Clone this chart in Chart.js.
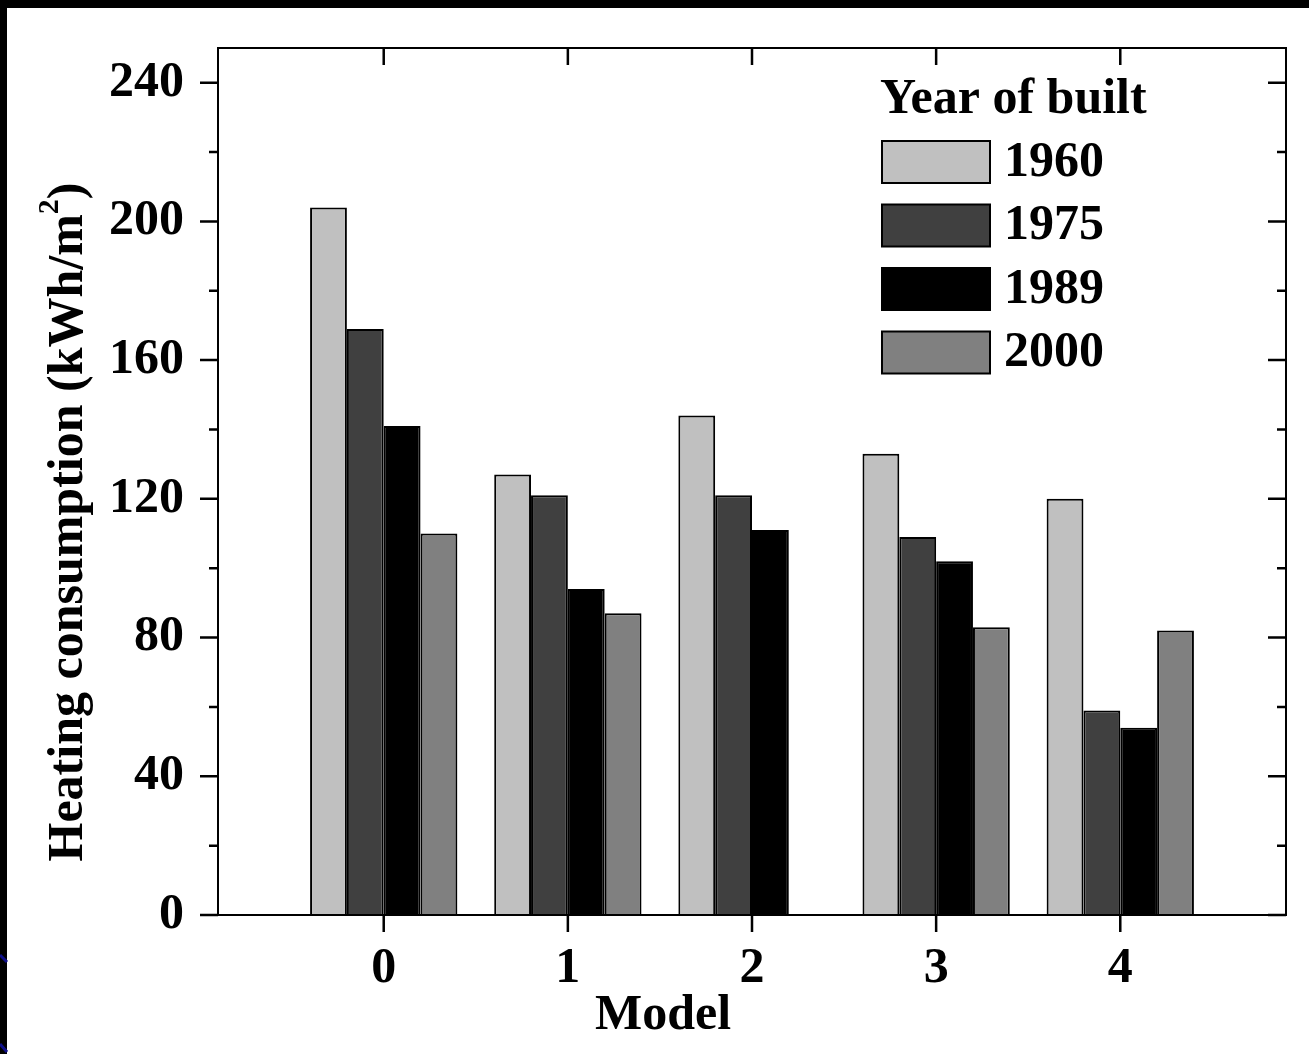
<!DOCTYPE html>
<html>
<head>
<meta charset="utf-8">
<script src="https://cdn.jsdelivr.net/npm/chart.js@4"></script>
<style>
  body { margin: 0; background: #fff; }
  #wrap { width: 1309px; height: 1054px; }
</style>
</head>
<body>
<div id="wrap"><canvas id="heatingChart"></canvas></div>
<script>
// Data
const models = [0, 1, 2, 3, 4];
const years = ["1960", "1975", "1989", "2000"];
const heat1960 = [204, 127, 144, 133, 120];
const heat1975 = [169, 121, 121, 109, 59];
const heat1989 = [141, 94, 111, 102, 54];
const heat2000 = [110, 87, null, 83, 82];
const yTicks = [0, 40, 80, 120, 160, 200, 240];

const FONT = "'Liberation Serif', 'Times New Roman', serif";
const fills = ["#c0c0c0", "#404040", "#000000", "#808080"];
const series = [heat1960, heat1975, heat1989, heat2000];

const toPoints = (vals) => models.map((m, i) => ({ x: m, y: vals[i] }));

// Frame, ticks, axis titles and legend
const framePlugin = {
  id: "frame",
  beforeDraw(chart) {
    const c = chart.ctx;
    c.save();
    c.fillStyle = "#fff";
    c.fillRect(0, 0, chart.width, chart.height);
    c.fillStyle = "#000";
    c.fillRect(0, 0, chart.width, 8);
    c.fillRect(0, 0, 7, chart.height);
    c.strokeStyle = "#10108a";
    c.lineWidth = 3;
    c.beginPath();
    c.moveTo(0, 955); c.lineTo(7, 962);
    c.moveTo(0, 1044); c.lineTo(7, 1052);
    c.stroke();
    c.restore();
  },
  afterDatasetsDraw(chart) {
    const c = chart.ctx;
    const a = chart.chartArea;
    const xs = chart.scales.x, ys = chart.scales.y;
    c.save();
    c.strokeStyle = "#000";
    c.lineWidth = 2;
    c.strokeRect(a.left, a.top, a.right - a.left, a.bottom - a.top);
    c.lineWidth = 2.5;
    c.beginPath();
    // y ticks: major every 40, minor every 20
    for (let v = 0; v <= 240; v += 20) {
      const y = ys.getPixelForValue(v);
      const len = v % 40 === 0 ? 18 : 9;
      c.moveTo(a.left - len, y); c.lineTo(a.left, y);
      c.moveTo(a.right, y); c.lineTo(a.right - len, y);
    }
    // x ticks at each model
    models.forEach((m) => {
      const x = xs.getPixelForValue(m);
      c.moveTo(x, a.bottom); c.lineTo(x, a.bottom + 17);
      c.moveTo(x, a.top); c.lineTo(x, a.top + 17);
    });
    c.stroke();

    // axis titles
    c.fillStyle = "#000";
    c.font = "bold 50px " + FONT;
    c.textAlign = "center";
    c.textBaseline = "middle";
    c.fillText("Model", 663, 1016);

    const main = "Heating consumption (kWh/m";
    const tail = ")";
    c.font = "bold 50px " + FONT;
    const wMain = c.measureText(main).width;
    const wTail = c.measureText(tail).width;
    c.font = "bold 30px " + FONT;
    const wSup = c.measureText("2").width;
    const total = wMain + wSup + wTail;
    c.translate(65, 522);
    c.rotate(-Math.PI / 2);
    c.textAlign = "left";
    c.textBaseline = "alphabetic";
    let x0 = -total / 2;
    const base = 17;
    c.font = "bold 50px " + FONT;
    c.fillText(main, x0, base);
    c.font = "bold 30px " + FONT;
    c.fillText("2", x0 + wMain, base - 24);
    c.font = "bold 50px " + FONT;
    c.fillText(tail, x0 + wMain + wSup, base);
    c.restore();

    // legend
    c.save();
    c.font = "bold 50px " + FONT;
    c.fillStyle = "#000";
    c.textBaseline = "middle";
    c.textAlign = "left";
    c.fillText("Year of built", 880, 100);
    chart.data.datasets.forEach((ds, i) => {
      const top = 141 + i * 63.5;
      c.fillStyle = ds.backgroundColor;
      c.fillRect(882, top, 108, 42);
      c.strokeStyle = "#000";
      c.lineWidth = 2;
      c.strokeRect(882, top, 108, 42);
      c.fillStyle = "#000";
      c.fillText(ds.label, 1004, top + 22);
    });
    c.restore();
  }
};

new Chart(document.getElementById("heatingChart"), {
  type: "bar",
  data: {
    datasets: years.map((yr, i) => ({
      label: yr,
      data: toPoints(series[i]),
      backgroundColor: fills[i],
      borderColor: "#000",
      borderWidth: 2,
      categoryPercentage: 0.8,
      barPercentage: 1.0,
    })),
  },
  options: {
    responsive: true,
    maintainAspectRatio: false,
    animation: false,
    layout: { padding: { top: 48, right: 23, left: 0, bottom: 0 } },
    plugins: {
      legend: { display: false },
      tooltip: { enabled: false },
    },
    scales: {
      x: {
        type: "linear",
        offset: false,
        min: -0.9,
        max: 4.9,
        grid: { display: false, offset: false },
        border: { display: false },
        ticks: {
          stepSize: 1,
          includeBounds: false,
          padding: 16,
          color: "#000",
          font: { family: FONT, size: 50, weight: "bold" },
          maxRotation: 0,
        },
        afterFit(scale) {
          scale.height = 139;
          scale.paddingLeft = 0;
          scale.paddingRight = 0;
        },
      },
      y: {
        min: 0,
        max: 250,
        grid: { display: false },
        border: { display: false },
        afterBuildTicks(scale) { scale.ticks = yTicks.map((v) => ({ value: v })); },
        ticks: {
          padding: 26,
          color: "#000",
          font: { family: FONT, size: 50, weight: "bold" },
        },
        afterFit(scale) {
          scale.width = 218;
          scale.paddingTop = 0;
          scale.paddingBottom = 0;
        },
      },
    },
  },
  plugins: [framePlugin],
});
</script>
</body>
</html>
